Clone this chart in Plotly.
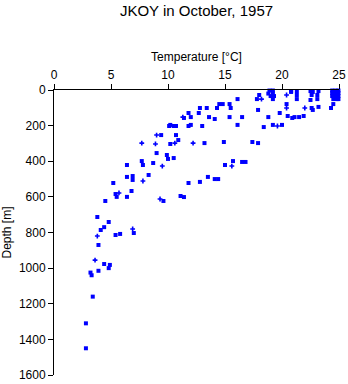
import plotly.graph_objects as go

# Temperature [°C] and depth [m] of observations drawn as squares
sq_temp = [2.8, 2.8, 3.4, 3.2, 3.3, 3.9, 4.4, 4.9, 4.8, 3.9, 4.1, 4.4, 4.8, 3.8,
           5.4, 5.8, 7.0, 4.5, 5.5, 5.4, 6.4, 6.8, 5.2, 6.4, 6.9, 6.9, 8.3, 9.6,
           11.1, 11.4, 11.8, 12.8, 13.5, 14.1, 14.4, 15.0, 15.7, 16.5, 16.8,
           13.2, 14.9, 17.4, 17.9, 6.4, 7.7, 7.8, 8.7, 9.0, 9.9, 10.0, 10.5,
           10.2, 10.9, 9.4, 10.7, 10.1, 10.2, 10.5, 10.7, 11.8, 11.4, 11.8, 12.0,
           12.0, 12.7, 13.0, 12.8, 13.4, 13.6, 14.1, 14.3, 14.5, 14.8, 15.4, 15.5,
           15.4, 16.1, 16.5, 16.1, 17.8, 18.0, 17.9, 18.4, 18.8, 19.2, 20.0, 19.8,
           19.2, 18.9, 19.2, 18.8, 19.2, 19.0, 19.3, 20.4, 20.5, 20.9, 21.1, 21.5,
           21.9, 20.8, 20.8, 21.3, 21.3, 21.3, 22.6, 22.7, 23.2, 24.3, 24.5, 22.5,
           22.7, 22.6, 23.2, 23.1, 22.5, 23.1,
           24.4, 24.7, 24.95, 24.4, 24.7, 24.95, 24.4, 24.7, 24.95, 24.5, 24.8, 24.95]
sq_depth = [1450, 1310, 1160, 1025, 1040, 1015, 977, 982, 1000, 870, 786, 770, 741, 713,
            814, 808, 803, 623, 600, 584, 600, 567, 522, 488, 483, 505, 477, 623,
            595, 601, 522, 516, 488, 500, 500, 421, 399, 404, 404,
            298, 292, 292, 298, 421, 399, 421, 410, 354, 365, 387, 382,
            303, 281, 253, 253, 202, 196, 202, 202, 202, 157, 129, 152,
            196, 129, 202, 101, 101, 152, 163, 101, 79, 79, 79, 101,
            152, 196, 152, 51, 51, 28, 112, 208, 152, 196, 196, 129,
            51, 3, 3, 20, 20, 34, 34, 79, 146, 157, 152, 152,
            146, 6, 11, 6, 28, 51, 101, 112, 95, 101, 79, 6,
            11, 28, 6, 28, 56, 51,
            3, 3, 3, 17, 17, 17, 34, 34, 34, 51, 51, 51]

# Observations drawn as small crosses (overlapping samples)
cr_temp = [3.6, 3.8, 6.9, 5.7, 7.8, 9.3, 15.6, 12.2, 9.5, 7.7, 8.9, 10.6, 9.0,
           11.3, 18.2, 19.6, 20.4, 20.4, 22.0]
cr_depth = [955, 820, 780, 578, 511, 612, 427, 298, 427, 298, 303, 298, 253,
            152, 51, 202, 101, 28, 101]

x_ticks = [0, 5, 10, 15, 20, 25]
y_ticks = [0, 200, 400, 600, 800, 1000, 1200, 1400, 1600]

title_text = "JKOY in October, 1957"
x_title = "Temperature [°C]"
y_title = "Depth [m]"

FONT = "Liberation Sans, Arial, sans-serif"
BLUE = "#0000FF"

fig = go.Figure()
fig.add_trace(go.Scatter(x=sq_temp, y=sq_depth, mode="markers",
                         marker=dict(symbol="square", size=4, color=BLUE, line=dict(width=0)),
                         cliponaxis=False, showlegend=False))
fig.add_trace(go.Scatter(x=cr_temp, y=cr_depth, mode="markers",
                         marker=dict(symbol="cross", size=4, color=BLUE, line=dict(width=0)),
                         cliponaxis=False, showlegend=False))

fig.update_layout(
    width=348, height=384,
    margin=dict(l=54, r=9, t=90, b=9, autoexpand=False),
    paper_bgcolor="white", plot_bgcolor="white",
    font=dict(family=FONT, size=12, color="black"),
    title=dict(text=title_text, xref="paper", x=0.5, xanchor="center",
               yref="container", y=0.985, yanchor="top",
               font=dict(family=FONT, size=15, color="black")),
    xaxis=dict(side="top", range=[0, 25], tickvals=x_ticks, ticks="outside", ticklen=5,
               tickcolor="black", showline=True, linecolor="black", linewidth=1,
               showgrid=False, zeroline=False, tickfont=dict(size=12), automargin=False,
               title=dict(text=x_title, font=dict(size=12), standoff=4)),
    yaxis=dict(range=[1600, 0], tickvals=y_ticks, ticks="outside", ticklen=5,
               tickcolor="black", showline=True, linecolor="black", linewidth=1,
               showgrid=False, zeroline=False, tickfont=dict(size=12), automargin=False,
               title=dict(text=y_title, font=dict(size=12), standoff=6)),
)

fig.write_html("out.html")
